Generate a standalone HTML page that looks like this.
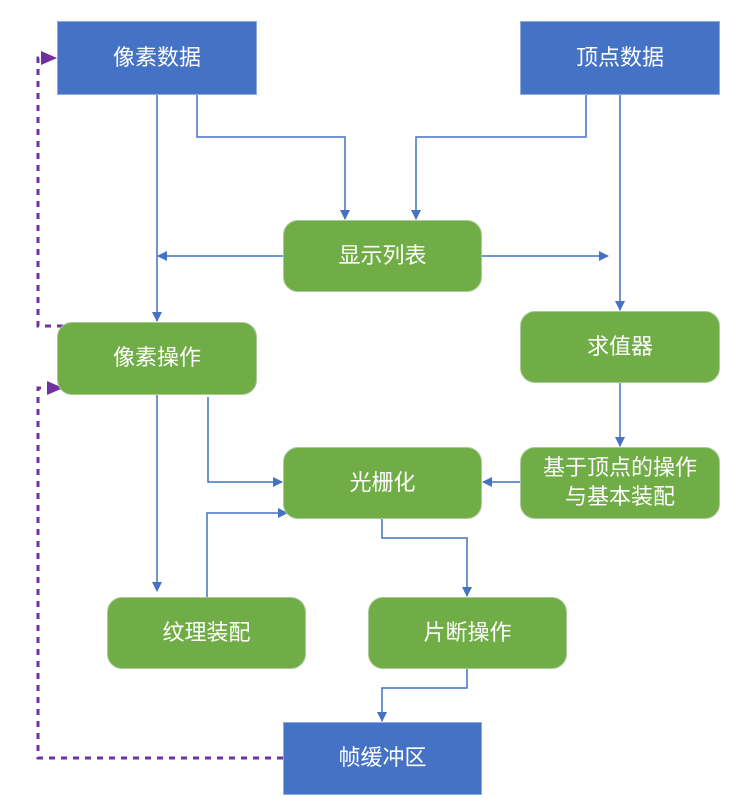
<!DOCTYPE html>
<html><head><meta charset="utf-8"><style>
body{margin:0;background:#fff;}
.b{position:absolute;display:flex;align-items:center;justify-content:center;color:#fff;font-family:"Liberation Sans","Noto Sans CJK SC",sans-serif;font-size:22px;box-sizing:border-box;text-align:center;line-height:1.3;}
.r{background:#4472C4;border:1px solid #8faadc;}
.g{background:#70AD47;border:1px solid #a9c99a;border-radius:15px;}
</style></head><body>
<div style="position:relative;width:737px;height:808px;">
<svg width="737" height="808" style="position:absolute;left:0;top:0">
<defs>
<marker id="a" markerWidth="10" markerHeight="10" refX="9" refY="5" orient="auto" markerUnits="userSpaceOnUse"><path d="M0,0L10,5L0,10z" fill="#4472C4"/></marker>
<marker id="p" markerWidth="16" markerHeight="14" refX="15" refY="7" orient="auto" markerUnits="userSpaceOnUse"><path d="M0,0L16,7L0,14z" fill="#7030A0"/></marker>
</defs>
<g stroke="#4472C4" stroke-width="1.5" fill="none" marker-end="url(#a)">
<path d="M157,95V321"/>
<path d="M197,95V137H345V219"/>
<path d="M586,95V137H416V219"/>
<path d="M620,95V310"/>
<path d="M283,256H158"/>
<path d="M482,256H608"/>
<path d="M157,395V591"/>
<path d="M208,397V482H282"/>
<path d="M207,597V513H287"/>
<path d="M620,383V446"/>
<path d="M520,482H483"/>
<path d="M382,519V538H467V596"/>
<path d="M467,669V688H382V721"/>
</g>
<g stroke="#7030A0" stroke-width="3" fill="none" stroke-dasharray="6,6" marker-end="url(#p)">
<path d="M63,326H38V58H56"/>
<path d="M283,758H38V388H62"/>
</g>
</svg>
<div class="b r" style="left:57px;top:21px;width:200px;height:74px">像素数据</div>
<div class="b r" style="left:520px;top:21px;width:200px;height:74px">顶点数据</div>
<div class="b g" style="left:283px;top:220px;width:199px;height:72px">显示列表</div>
<div class="b g" style="left:57px;top:322px;width:200px;height:73px">像素操作</div>
<div class="b g" style="left:520px;top:311px;width:200px;height:72px">求值器</div>
<div class="b g" style="left:283px;top:447px;width:199px;height:72px">光栅化</div>
<div class="b g" style="left:520px;top:447px;width:200px;height:72px">基于顶点的操作<br>与基本装配</div>
<div class="b g" style="left:107px;top:597px;width:199px;height:72px">纹理装配</div>
<div class="b g" style="left:368px;top:597px;width:199px;height:72px">片断操作</div>
<div class="b r" style="left:283px;top:722px;width:199px;height:73px">帧缓冲区</div>
</div>
</body></html>
